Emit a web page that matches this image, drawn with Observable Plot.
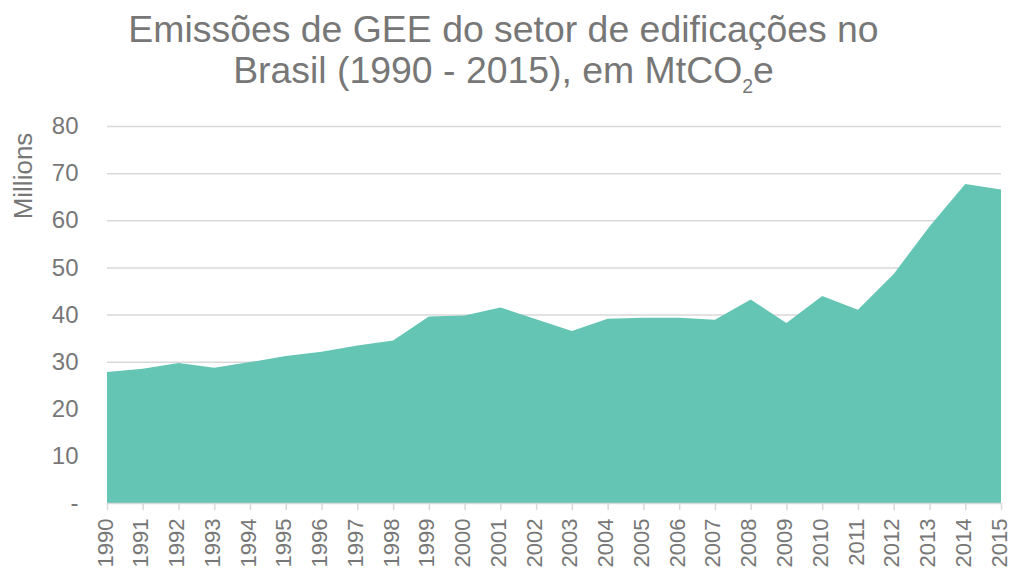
<!DOCTYPE html>
<html>
<head>
<meta charset="utf-8">
<script src="https://cdn.jsdelivr.net/npm/d3@7"></script>
<script src="https://cdn.jsdelivr.net/npm/@observablehq/plot@0.6"></script>
<style>
  html, body { margin: 0; padding: 0; background: #fff; }
  body { width: 1011px; height: 572px; overflow: hidden; font-family: "Liberation Sans", Arial, sans-serif; }
  #title { height: 100px; box-sizing: border-box; padding-top: 8.5px; text-align: center; color: #777777; font-size: 37.4px; line-height: 41px; width: 1007px; white-space: nowrap; }
  #title sub { font-size: 0.52em; vertical-align: -10px; line-height: 0; }
  #chart svg { display: block; }
</style>
</head>
<body>
<div id="title">Emissões de GEE do setor de edificações no<br>Brasil (1990 - 2015), em MtCO<sub>2</sub>e</div>
<div id="chart"></div>
<script>
const years = [1990,1991,1992,1993,1994,1995,1996,1997,1998,1999,2000,2001,2002,2003,2004,2005,2006,2007,2008,2009,2010,2011,2012,2013,2014,2015];
const emissions = [27.8,28.5,29.7,28.7,29.9,31.2,32.1,33.4,34.5,39.6,39.8,41.5,39.0,36.5,39.1,39.3,39.3,38.9,43.2,38.2,43.9,41.0,48.6,58.7,67.7,66.5];
const yTicks = [0,10,20,30,40,50,60,70,80];
const yLabel = "Millions";

const data = years.map((y, i) => ({year: y, value: emissions[i]}));
const gray = "#777777";

const chart = Plot.plot({
  width: 1011,
  height: 472,
  marginTop: 26,
  marginBottom: 69,
  marginLeft: 107,
  marginRight: 10,
  style: {fontFamily: "'Liberation Sans', Arial, sans-serif", color: gray, background: "#fff"},
  x: {domain: [1990, 2015]},
  y: {domain: [0, 80]},
  marks: [
    Plot.ruleY(yTicks.filter(d => d > 0), {stroke: "#d9d9d9", strokeWidth: 1.5}),
    Plot.areaY(data, {x: "year", y: "value", fill: "#65c5b4"}),
    Plot.ruleY([0], {stroke: "#d9d9d9", strokeWidth: 1.5}),
    Plot.axisY({ticks: yTicks, tickSize: 0, tickPadding: 29, tickFormat: d => d === 0 ? "-" : String(d), fontSize: 24, fill: gray, label: null}),
    Plot.axisX({ticks: years, tickSize: 7, stroke: "#d9d9d9", strokeWidth: 1.5, tickFormat: () => "", label: null}),
    Plot.axisX({ticks: years, tickFormat: d => String(d), tickRotate: -90, tickSize: 7, tickPadding: 8, dx: -2, stroke: "none", fontSize: 22, fill: gray, label: null}),
    Plot.text([yLabel], {frameAnchor: "top-left", rotate: -90, dx: -84, dy: 49.5, fontSize: 26, fill: gray, textAnchor: "middle", lineAnchor: "middle"})
  ]
});
document.getElementById("chart").appendChild(chart);
</script>
</body>
</html>
